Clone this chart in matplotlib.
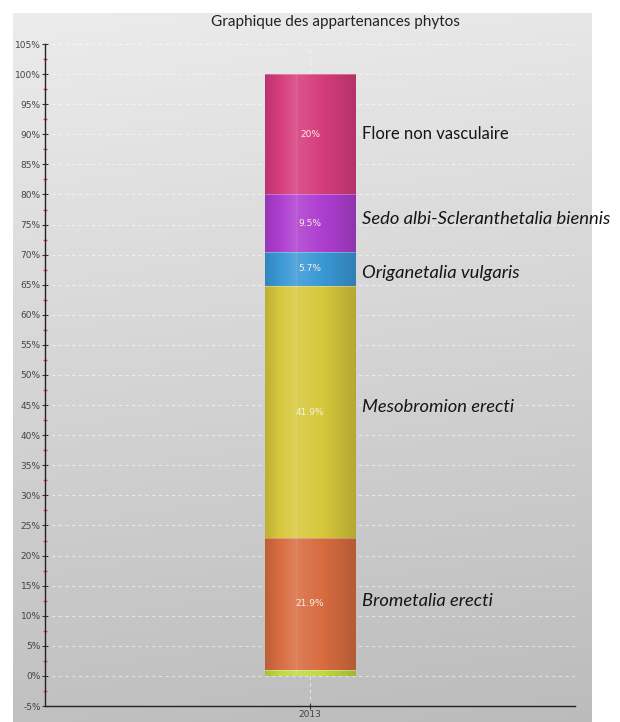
import numpy as np
import matplotlib
matplotlib.use("Agg")
import matplotlib.pyplot as plt
from matplotlib.colors import to_rgb

# stacked shares for the single year, bottom to top
year = "2013"
groups = ["", "Brometalia erecti", "Mesobromion erecti", "Origanetalia vulgaris",
          "Sedo albi-Scleranthetalia biennis", "Flore non vasculaire"]
shares = [1.0, 21.9, 41.9, 5.7, 9.5, 20.0]
italic = [False, True, True, True, True, False]
colors = ["#c2d842", "#d86c40", "#d6c83c", "#3a98d6", "#ae3ed0", "#d63c7c"]

# vertical nudges (points) so the side labels don't crowd each other
nudge = [0, 2, 3.5, -3, 3, 0]

W, H = 620, 722
fig = plt.figure(figsize=(W / 100, H / 100), dpi=100)
fig.patch.set_facecolor("white")

# grey gradient panel behind the plot
bg = fig.add_axes([13 / W, 0, 579 / W, 709 / H], zorder=0)
yy, xx = np.mgrid[0:1:200j, 0:1:200j]
shade = 0.925 - 0.17 * yy - 0.02 * xx
bg.imshow(np.dstack([shade] * 3), extent=(0, 1, 0, 1), aspect="auto", origin="upper")
bg.set_axis_off()

ax = fig.add_axes([45 / W, 1 - 706 / H, 530 / W, 662 / H], zorder=1)
ax.set_facecolor("none")

# bar shading profile across the bar width
t = np.linspace(0, 1, 120)
prof = np.interp(t, [0, 0.33, 0.345, 0.36, 1.0], [-0.12, 0.14, 0.2, 0.12, -0.16])

def shaded(c):
    c = np.array(to_rgb(c))
    out = np.empty((1, len(t), 3))
    for i, p in enumerate(prof):
        out[0, i] = c + (1 - c) * p if p > 0 else c * (1 + p)
    return out

bw = 0.34
bottom = 0.0
for g, s, it, c, dy in zip(groups, shares, italic, colors, nudge):
    bar = ax.bar(0, s, bw, bottom=bottom, color=c, edgecolor="none", zorder=3)[0]
    im = ax.imshow(shaded(c), extent=(-bw / 2, bw / 2, bottom, bottom + s),
                   aspect="auto", zorder=3.1)
    im.set_clip_path(bar)
    mid = bottom + s / 2
    if g:
        ax.text(0, mid, f"{s:g}%", color="#f6f1e6", fontsize=6.5,
                ha="center", va="center", zorder=4)
        ax.annotate(g, (bw / 2 + 0.027, mid), xytext=(0, dy),
                    textcoords="offset points", family="Lato",
                    fontsize=13.2 if it else 12, style="italic" if it else "normal",
                    ha="left", va="center", color="#151515", zorder=4)
    bottom += s
    # light seam on top of each segment
    ax.plot([-bw / 2, bw / 2], [bottom, bottom], color="white", lw=0.6,
            alpha=0.35, zorder=3.5)

ax.set_xlim(-1, 1)
ax.set_ylim(-5, 105)
ax.set_yticks(np.arange(-5, 106, 5))
ax.set_yticklabels([f"{v}%" for v in range(-5, 106, 5)])
ax.set_yticks(np.arange(-2.5, 105, 5), minor=True)
ax.set_xticks([0])
ax.set_xticklabels([year])

ax.tick_params(axis="y", which="major", direction="inout", length=4, width=0.8,
               color="#333333", labelsize=6.5, labelcolor="#444444", pad=1)
ax.tick_params(axis="y", which="minor", direction="inout", length=3, width=1,
               color="#d84848")
ax.tick_params(axis="x", direction="inout", length=4, width=0.8, color="#333333",
               labelsize=6.5, labelcolor="#444444", pad=1)

for v in range(0, 106, 5):
    ax.axhline(v, color="white", lw=0.8, ls=(0, (3, 3)), alpha=0.55, zorder=1)
ax.axvline(0, color="white", lw=0.8, ls=(0, (3, 3)), alpha=0.6, zorder=1)

for sp in ["top", "right"]:
    ax.spines[sp].set_visible(False)
for sp in ["left", "bottom"]:
    ax.spines[sp].set_color("#222222")
    ax.spines[sp].set_linewidth(1)

fig.text(335 / W, 1 - 22 / H, "Graphique des appartenances phytos",
         fontsize=11, family="Lato", ha="center", va="center", color="#222222")

fig.savefig("out.png", dpi=100)
